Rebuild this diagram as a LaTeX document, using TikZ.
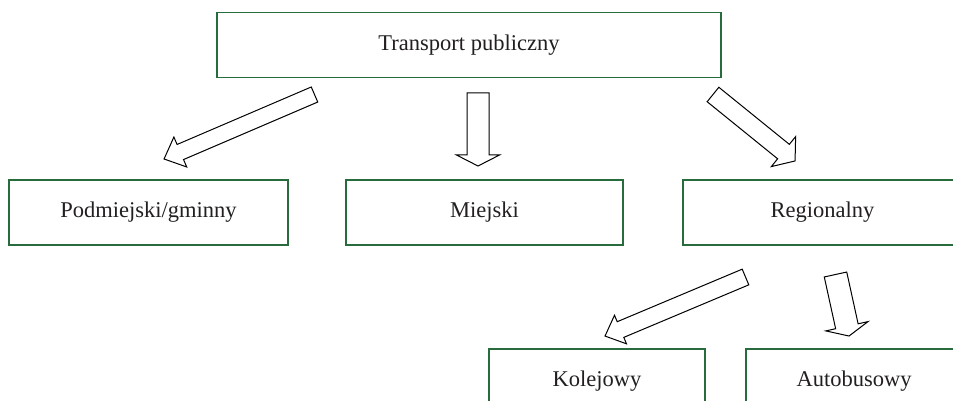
\documentclass[tikz,border=0pt]{standalone}
\usepackage{fontspec}
\setmainfont{Liberation Serif}
\definecolor{boxgreen}{RGB}{40,108,62}
\definecolor{txt}{RGB}{35,31,32}
\tikzset{
  boxline/.style={draw=boxgreen, line width=1.2pt},
  box/.style={boxline, fill=white, text=txt,
    minimum height=65pt, inner sep=0pt, font=\fontsize{22.5}{26}\selectfont},
  openbox/.style={box, draw=none, fill=none, outer sep=0pt},
  pics/barrow/.style n args={4}{code={
    % #1 length, #2 half shaft, #3 half head, #4 head length
    \draw[line width=1pt, fill=white, line join=miter]
      (0,-#2) -- ({#1-#4},-#2) -- ({#1-#4},-#3) -- (#1,0) -- ({#1-#4},#3)
      -- ({#1-#4},#2) -- (0,#2) -- cycle;
  }}
}
\begin{document}
\begin{tikzpicture}[x=1pt,y=-1pt]
\useasboundingbox (0,0) rectangle (953,401);
\coordinate (redge) at (953,0);
\node[box, minimum width=504pt] (top) at (469,45) {Transport publiczny};
\node[box, minimum width=279pt] (pod) at (148.5,212.5) {Podmiejski/gminny};
\node[box, minimum width=277pt] (mie) at (484.5,212.5) {Miejski};
\node[openbox, minimum width=279pt] (reg) at (822.5,212.5) {Regionalny};
\draw[boxline] (reg.north west -| redge) -- (reg.north west) -- (reg.south west) -- (reg.south west -| redge);
\node[box, minimum width=216pt] (kol) at (597,381.5) {Kolejowy};
\node[openbox, minimum width=216pt] (aut) at (854,381.5) {Autobusowy};
\draw[boxline] (aut.north west -| redge) -- (aut.north west) -- (aut.south west);
\coordinate (t1) at (314.5,94.5);
\coordinate (t2) at (478,93);
\coordinate (t3) at (713,94.5);
\coordinate (t4) at (745.5,277);
\coordinate (t5) at (835.5,274.5);
\pic[rotate=203.2] at (t1) {barrow={163.7}{8.2}{16.3}{17.7}};
\pic[rotate=270] at (t2) {barrow={73}{11}{21.5}{11}};
\pic[rotate=-39] at (t3) {barrow={105.6}{9.3}{19.3}{14.9}};
\pic[rotate=202.8] at (t4) {barrow={152.4}{8.5}{15.5}{16.8}};
\pic[rotate=-77.6] at (t5) {barrow={63}{11.5}{21.6}{10}};
\end{tikzpicture}
\end{document}
